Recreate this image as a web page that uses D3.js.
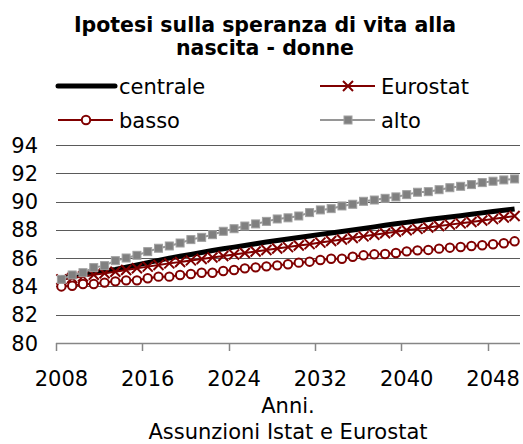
<!DOCTYPE html>
<html>
<head>
<meta charset="utf-8">
<script src="https://cdn.jsdelivr.net/npm/d3@7"></script>
<style>
  body { margin: 0; background: #fff; }
  text { font-family: "DejaVu Sans", Verdana, sans-serif; fill: #000; }
</style>
</head>
<body>
<script>
// dati
var years = d3.range(2008, 2051);
var yTicks = [80, 82, 84, 86, 88, 90, 92, 94];
var xLabels = [2008, 2016, 2024, 2032, 2040, 2048];

var centrale = [84.60, 84.72, 84.83, 84.95, 85.07, 85.20, 85.36, 85.52, 85.68, 85.84,
  86.00, 86.13, 86.26, 86.40, 86.54, 86.66, 86.78, 86.90, 87.02, 87.14,
  87.25, 87.35, 87.46, 87.57, 87.68, 87.78, 87.88, 87.99, 88.10, 88.21,
  88.32, 88.43, 88.53, 88.63, 88.73, 88.82, 88.91, 89.00, 89.10, 89.20,
  89.30, 89.39, 89.48];
var eurostat = [84.50, 84.60, 84.71, 84.82, 84.93, 85.04, 85.16, 85.28, 85.40, 85.51,
  85.63, 85.73, 85.84, 85.94, 86.05, 86.15, 86.26, 86.36, 86.47, 86.57,
  86.68, 86.78, 86.89, 86.99, 87.10, 87.21, 87.32, 87.43, 87.54, 87.65,
  87.76, 87.87, 87.97, 88.07, 88.17, 88.27, 88.37, 88.46, 88.56, 88.66,
  88.76, 88.87, 88.98];
var basso = [84.00, 84.05, 84.17, 84.17, 84.27, 84.36, 84.43, 84.43, 84.58, 84.69,
  84.69, 84.81, 84.88, 84.97, 84.97, 85.09, 85.16, 85.28, 85.35, 85.42,
  85.49, 85.57, 85.68, 85.75, 85.87, 85.96, 85.96, 86.10, 86.20, 86.27,
  86.29, 86.36, 86.48, 86.55, 86.58, 86.67, 86.74, 86.79, 86.86, 86.91,
  86.98, 87.05, 87.19];
var alto = [84.50, 84.81, 84.97, 85.33, 85.47, 85.82, 86.01, 86.20, 86.46, 86.70,
  86.86, 87.07, 87.31, 87.47, 87.66, 87.90, 88.08, 88.27, 88.42, 88.60,
  88.77, 88.85, 88.98, 89.22, 89.41, 89.50, 89.69, 89.81, 90.02, 90.11,
  90.23, 90.33, 90.49, 90.66, 90.70, 90.84, 90.98, 91.08, 91.20, 91.34,
  91.44, 91.53, 91.60];

var W = 523, H = 444;
var plotLeft = 56, plotRight = 520, plotTop = 145, plotBottom = 343;
var fs = "21px";

var svg = d3.select("body").append("svg")
    .attr("width", W)
    .attr("height", H);

var x = d3.scaleBand().domain(years).range([plotLeft, plotRight]).padding(0);
var y = d3.scaleLinear().domain([80, 94]).range([plotBottom, plotTop]);
var cx = function(d, i) { return x(years[i]) + x.bandwidth() / 2; };

// TITOLO
var title = svg.append("text")
    .attr("text-anchor", "middle")
    .attr("font-weight", "bold")
    .attr("font-size", "20.5px");
title.append("tspan").attr("x", 265).attr("y", 32).text("Ipotesi sulla speranza di vita alla");
title.append("tspan").attr("x", 265).attr("y", 55).text("nascita - donne");

// GRIGLIA
svg.append("g").selectAll("line")
    .data(yTicks.filter(function(t) { return t > 80; }))
    .enter().append("line")
    .attr("x1", plotLeft).attr("x2", plotRight)
    .attr("y1", function(d) { return Math.round(y(d)) + 0.5; })
    .attr("y2", function(d) { return Math.round(y(d)) + 0.5; })
    .attr("stroke", "#5a5a5a")
    .attr("stroke-width", 1);

// ASSE Y (solo etichette)
svg.append("g").selectAll("text")
    .data(yTicks)
    .enter().append("text")
    .attr("x", 38)
    .attr("y", function(d) { return y(d); })
    .attr("dy", "0.36em")
    .attr("text-anchor", "end")
    .attr("font-size", fs)
    .text(function(d) { return d; });

// ASSE X
var xAxis = d3.axisBottom(x)
    .tickValues(xLabels)
    .tickSize(0)
    .tickPadding(28);
var gx = svg.append("g")
    .attr("transform", "translate(0," + plotBottom + ")")
    .call(xAxis);
gx.select(".domain").remove();
gx.selectAll("text")
    .attr("font-size", fs)
    .attr("font-family", "DejaVu Sans, Verdana, sans-serif")
    .attr("fill", "#000");

svg.append("line")
    .attr("x1", plotLeft).attr("x2", plotRight)
    .attr("y1", plotBottom + 0.5).attr("y2", plotBottom + 0.5)
    .attr("stroke", "#868686")
    .attr("stroke-width", 1.5);

svg.append("g").selectAll("line")
    .data(xLabels)
    .enter().append("line")
    .attr("x1", function(d) { return Math.round(x(d)) + 0.5; })
    .attr("x2", function(d) { return Math.round(x(d)) + 0.5; })
    .attr("y1", plotBottom)
    .attr("y2", plotBottom + 8)
    .attr("stroke", "#868686")
    .attr("stroke-width", 1.5);

svg.append("text")
    .attr("x", (plotLeft + plotRight) / 2)
    .attr("y", 413)
    .attr("text-anchor", "middle")
    .attr("font-size", fs)
    .text("Anni.");

svg.append("text")
    .attr("x", (plotLeft + plotRight) / 2)
    .attr("y", 439)
    .attr("text-anchor", "middle")
    .attr("font-size", fs)
    .text("Assunzioni Istat e Eurostat");

// SERIE
var line = d3.line()
    .x(function(d, i) { return cx(d, i); })
    .y(function(d) { return y(d); });

var plot = svg.append("g");

// centrale
plot.append("path")
    .datum(centrale)
    .attr("d", line)
    .attr("fill", "none")
    .attr("stroke", "#000")
    .attr("stroke-width", 5)
    .attr("stroke-linejoin", "round");

// Eurostat
plot.append("path")
    .datum(eurostat)
    .attr("d", line)
    .attr("fill", "none")
    .attr("stroke", "#800000")
    .attr("stroke-width", 2);

function crossPath(px, py, s) {
  return "M" + (px - s) + "," + (py - s) + "L" + (px + s) + "," + (py + s) +
         "M" + (px - s) + "," + (py + s) + "L" + (px + s) + "," + (py - s);
}

plot.append("g").selectAll("path")
    .data(eurostat)
    .enter().append("path")
    .attr("d", function(d, i) { return crossPath(cx(d, i), y(d), 5); })
    .attr("stroke", "#800000")
    .attr("stroke-width", 2)
    .attr("fill", "none");

// basso
plot.append("path")
    .datum(basso)
    .attr("d", line)
    .attr("fill", "none")
    .attr("stroke", "#800000")
    .attr("stroke-width", 2);

plot.append("g").selectAll("circle")
    .data(basso)
    .enter().append("circle")
    .attr("cx", cx)
    .attr("cy", function(d) { return y(d); })
    .attr("r", 4.2)
    .attr("fill", "#fff")
    .attr("stroke", "#800000")
    .attr("stroke-width", 2);

// alto
plot.append("path")
    .datum(alto)
    .attr("d", line)
    .attr("fill", "none")
    .attr("stroke", "#969696")
    .attr("stroke-width", 2);

plot.append("g").selectAll("rect")
    .data(alto)
    .enter().append("rect")
    .attr("x", function(d, i) { return cx(d, i) - 4; })
    .attr("y", function(d) { return y(d) - 4; })
    .attr("width", 8)
    .attr("height", 8)
    .attr("fill", "#808080")
    .attr("stroke", "#a0a0a0")
    .attr("stroke-width", 1);

// LEGENDA
var legend = svg.append("g");
var legendItems = [
  { name: "centrale", lx: 58, ly: 86 },
  { name: "Eurostat", lx: 320, ly: 86 },
  { name: "basso", lx: 58, ly: 120 },
  { name: "alto", lx: 320, ly: 120 }
];

legendItems.forEach(function(it) {
  var g = legend.append("g");
  var mx = it.lx + 28;
  if (it.name === "centrale") {
    g.append("line").attr("x1", it.lx).attr("x2", it.lx + 57)
      .attr("y1", it.ly).attr("y2", it.ly)
      .attr("stroke", "#000").attr("stroke-width", 5).attr("stroke-linecap", "round");
  } else if (it.name === "Eurostat") {
    g.append("line").attr("x1", it.lx).attr("x2", it.lx + 55)
      .attr("y1", it.ly).attr("y2", it.ly)
      .attr("stroke", "#800000").attr("stroke-width", 2);
    g.append("path").attr("d", crossPath(mx, it.ly, 5))
      .attr("stroke", "#800000").attr("stroke-width", 2);
  } else if (it.name === "basso") {
    g.append("line").attr("x1", it.lx).attr("x2", it.lx + 55)
      .attr("y1", it.ly).attr("y2", it.ly)
      .attr("stroke", "#800000").attr("stroke-width", 2);
    g.append("circle").attr("cx", mx).attr("cy", it.ly).attr("r", 4.2)
      .attr("fill", "#fff").attr("stroke", "#800000").attr("stroke-width", 2);
  } else {
    g.append("line").attr("x1", it.lx).attr("x2", it.lx + 55)
      .attr("y1", it.ly).attr("y2", it.ly)
      .attr("stroke", "#969696").attr("stroke-width", 2);
    g.append("rect").attr("x", mx - 4).attr("y", it.ly - 4)
      .attr("width", 8).attr("height", 8)
      .attr("fill", "#808080").attr("stroke", "#a0a0a0");
  }
  g.append("text")
    .attr("x", it.lx + 61)
    .attr("y", it.ly)
    .attr("dy", "0.36em")
    .attr("font-size", fs)
    .text(it.name);
});
</script>
</body>
</html>
